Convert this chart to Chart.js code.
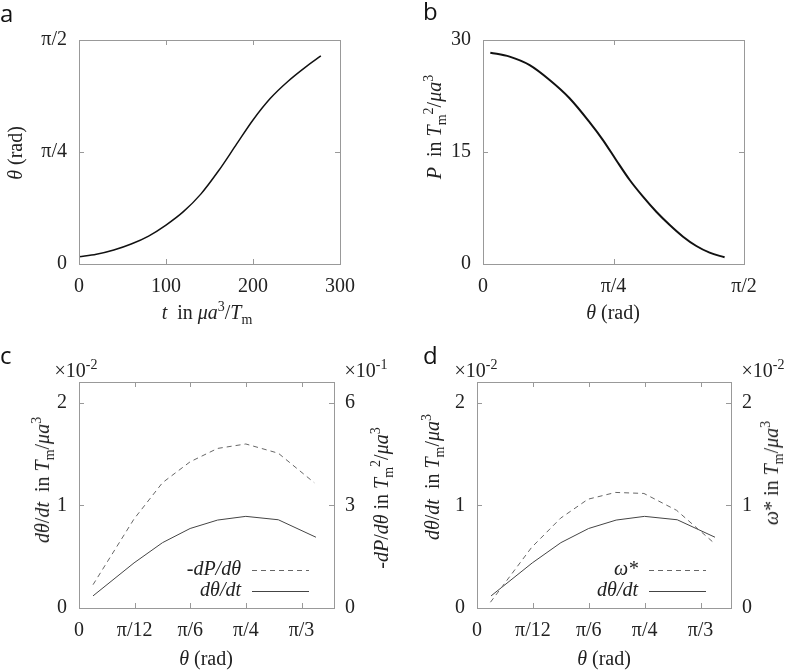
<!DOCTYPE html>
<html>
<head>
<meta charset="utf-8">
<script src="https://cdn.jsdelivr.net/npm/chart.js@4.4.1/dist/chart.umd.min.js"></script>
<style>
  body { margin: 0; background: #fff; }
  #page { position: relative; width: 787px; height: 672px; overflow: hidden;
          font-family: "Liberation Serif", "DejaVu Serif", "Noto Serif", "Times New Roman", serif; color: #222; }
  canvas { position: absolute; }
  .lbl { position: absolute; font-size: 20px; line-height: 20px; white-space: nowrap;
         transform: translate(-50%, -50%); }
  .rot { transform: translate(-50%, -50%) rotate(-90deg); }
  .lbl sup, .lbl sub { font-size: 14px; line-height: 0; }
  .tag { position: absolute; font-family: "Open Sans", sans-serif; font-size: 24px;
         line-height: 24px; color: #111; }
</style>
</head>
<body>
<div id="page">
  <canvas id="pa" width="393" height="336" style="left:0;top:0"></canvas>
  <canvas id="pb" width="394" height="336" style="left:393px;top:0"></canvas>
  <canvas id="pc" width="393" height="336" style="left:0;top:336px"></canvas>
  <canvas id="pd" width="394" height="336" style="left:393px;top:336px"></canvas>

  <div class="tag" style="left:0;top:1px">a</div>
  <div class="tag" style="left:423px;top:-1px">b</div>
  <div class="tag" style="left:0;top:343px">c</div>
  <div class="tag" style="left:423px;top:343px">d</div>

  <div class="lbl rot" style="left:15px;top:153px"><i>θ</i> (rad)</div>
  <div class="lbl" style="left:207px;top:312px"><i>t</i>&nbsp; in <i>μa</i><sup>3</sup>/<i>T</i><sub>m</sub></div>

  <div class="lbl rot" style="left:434px;top:127px"><i>P</i>&nbsp; in <i>T</i><sub>m</sub><sup>2</sup>/<i>μa</i><sup>3</sup></div>
  <div class="lbl" style="left:613px;top:312px"><i>θ</i> (rad)</div>

  <div class="lbl" style="left:76px;top:370px">×10<sup>-2</sup></div>
  <div class="lbl" style="left:366px;top:370px">×10<sup>-1</sup></div>
  <div class="lbl rot" style="left:42px;top:480px"><i>dθ</i>/<i>dt</i>&nbsp; in <i>T</i><sub>m</sub>/<i>μa</i><sup>3</sup></div>
  <div class="lbl rot" style="left:381px;top:498px">-<i>dP</i>/<i>dθ</i> in <i>T</i><sub>m</sub><sup>2</sup>/<i>μa</i><sup>3</sup></div>
  <div class="lbl" style="left:206px;top:658px"><i>θ</i> (rad)</div>

  <div class="lbl" style="left:476px;top:370px">×10<sup>-2</sup></div>
  <div class="lbl" style="left:763px;top:370px">×10<sup>-2</sup></div>
  <div class="lbl rot" style="left:432px;top:477px"><i>dθ</i>/<i>dt</i>&nbsp; in <i>T</i><sub>m</sub>/<i>μa</i><sup>3</sup></div>
  <div class="lbl rot" style="left:771px;top:473px"><i>ω</i>* in <i>T</i><sub>m</sub>/<i>μa</i><sup>3</sup></div>
  <div class="lbl" style="left:604px;top:658px"><i>θ</i> (rad)</div>
</div>
<script>
const SERIF = '"Liberation Serif", "DejaVu Serif", "Noto Serif", "Times New Roman", serif';

// panel a: angle against time
const timeA  = [0, 20, 40, 60, 80, 100, 120, 140, 160, 180, 200, 220, 240, 260, 278];
const thetaA = [0.051, 0.068, 0.098, 0.140, 0.196, 0.273, 0.367, 0.490, 0.650, 0.830,
                1.010, 1.162, 1.280, 1.379, 1.459];

// panel b: P against angle
const thetaB = [0.044, 0.160, 0.281, 0.401, 0.521, 0.641, 0.722, 0.802, 0.883, 0.963,
                1.043, 1.124, 1.204, 1.284, 1.364, 1.454];
const powerB = [28.3, 27.77, 26.63, 24.64, 22.2, 19.0, 16.6, 13.9, 11.25, 9.02,
                7.0, 5.22, 3.66, 2.41, 1.52, 0.9];

// panels c and d
const thetaRate = [0.066, 0.259, 0.393, 0.523, 0.652, 0.785, 0.938, 1.115];
const dThetaDt  = [0.118, 0.439, 0.636, 0.774, 0.856, 0.892, 0.859, 0.689];  // x10^-2
const thetaDP   = [0.066, 0.259, 0.393, 0.523, 0.652, 0.785, 0.938, 1.107];
const minusDP   = [0.68, 2.60, 3.66, 4.27, 4.66, 4.79, 4.52, 3.66];           // x10^-1
const thetaOmega = [0.063, 0.256, 0.392, 0.520, 0.649, 0.782, 0.935, 1.107];
const omegaStar  = [0.056, 0.590, 0.875, 1.059, 1.125, 1.115, 0.951, 0.639];  // x10^-2

// ticks
const PI = Math.PI;
const timeTicks = [0, 100, 200, 300];
const timeLabels = ['0', '100', '200', '300'];
const halfTicks = [0, PI / 4, PI / 2];
const halfLabels = ['0', 'π/4', 'π/2'];
const powerTicks = [0, 15, 30];
const powerLabels = ['0', '15', '30'];
const thirdTicks = [0, PI / 12, PI / 6, PI / 4, PI / 3];
const thirdLabels = ['0', 'π/12', 'π/6', 'π/4', 'π/3'];
const rateTicks = [0, 1, 2];
const rateLabels = ['0', '1', '2'];
const dpTicks = [0, 3, 6];
const dpLabels = ['0', '3', '6'];

const pts = (xs, ys) => xs.map((x, i) => ({ x: x, y: ys[i] }));

// box with inward ticks, gnuplot style
const framePlugin = {
  id: 'frame',
  afterDatasetsDraw(chart) {
    const ctx = chart.ctx, a = chart.chartArea;
    const hasRight = Object.values(chart.scales).some(s => s.position === 'right');
    const tl = 5;
    ctx.save();
    ctx.strokeStyle = '#999';
    ctx.lineWidth = 1;
    ctx.strokeRect(Math.round(a.left) + 0.5, Math.round(a.top) + 0.5,
                   Math.round(a.width), Math.round(a.height));
    ctx.beginPath();
    Object.values(chart.scales).forEach(s => {
      s.ticks.forEach(t => {
        const p = Math.round(s.getPixelForValue(t.value)) + 0.5;
        if (s.isHorizontal()) {
          ctx.moveTo(p, a.bottom); ctx.lineTo(p, a.bottom - tl);
          ctx.moveTo(p, a.top); ctx.lineTo(p, a.top + tl);
        } else if (s.position === 'left') {
          ctx.moveTo(a.left, p); ctx.lineTo(a.left + tl, p);
          if (!hasRight) { ctx.moveTo(a.right, p); ctx.lineTo(a.right - tl, p); }
        } else {
          ctx.moveTo(a.right, p); ctx.lineTo(a.right - tl, p);
        }
      });
    });
    ctx.stroke();
    ctx.restore();
  }
};

// key inside the plot, text left of the sample line
const keyPlugin = {
  id: 'key',
  afterDatasetsDraw(chart, args, opts) {
    if (!opts.show) return;
    const ctx = chart.ctx, a = chart.chartArea;
    ctx.save();
    chart.data.datasets.forEach((ds, i) => {
      const y = a.bottom - 38 + i * 21;
      ctx.font = 'italic 20px ' + SERIF;
      ctx.fillStyle = '#222';
      ctx.textAlign = 'right';
      ctx.textBaseline = 'middle';
      ctx.fillText(ds.label, a.right - 93, y);
      ctx.strokeStyle = ds.borderColor;
      ctx.lineWidth = ds.borderWidth;
      ctx.setLineDash(ds.borderDash || []);
      ctx.beginPath();
      ctx.moveTo(a.right - 82, y + 0.5);
      ctx.lineTo(a.right - 25, y + 0.5);
      ctx.stroke();
    });
    ctx.restore();
  }
};

function axis(pos, min, max, ticks, labels, size, pad) {
  return {
    type: 'linear', position: pos, min: min, max: max,
    grid: { display: false, drawTicks: false },
    border: { display: false },
    ticks: {
      font: { family: SERIF, size: 20 }, color: '#222',
      padding: pad, maxRotation: 0, autoSkip: false,
      callback: (v, i) => labels[i]
    },
    afterBuildTicks: s => { s.ticks = ticks.map(v => ({ value: v })); },
    afterFit: s => { if (s.isHorizontal()) s.height = size; else s.width = size; }
  };
}

// box = canvas position in page, plot = wanted chart area in page
function panel(id, box, plot, datasets, xAx, yAx, y2Ax, key) {
  const scales = {
    x: axis('bottom', xAx.min, xAx.max, xAx.ticks, xAx.labels, box.y + box.h - plot.b, 11),
    y: axis('left', yAx.min, yAx.max, yAx.ticks, yAx.labels, plot.l - box.x, 12)
  };
  if (y2Ax) scales.y2 = axis('right', y2Ax.min, y2Ax.max, y2Ax.ticks, y2Ax.labels, box.x + box.w - plot.r, 11);
  new Chart(document.getElementById(id), {
    type: 'scatter',
    data: { datasets: datasets },
    options: {
      responsive: false, animation: false, devicePixelRatio: 1,
      layout: { padding: { left: 0, top: plot.t - box.y, bottom: 0,
                           right: y2Ax ? 0 : box.x + box.w - plot.r } },
      scales: scales,
      plugins: { legend: { display: false }, tooltip: { enabled: false }, key: { show: key } }
    },
    plugins: [framePlugin, keyPlugin]
  });
}

const solid = (label, xs, ys, w, col) => ({
  label: label, data: pts(xs, ys), showLine: true, pointRadius: 0,
  borderColor: col, borderWidth: w, tension: 0, yAxisID: 'y'
});

panel('pa', { x: 0, y: 0, w: 393, h: 336 }, { l: 79, r: 340, t: 40, b: 264 },
  [Object.assign(solid('θ', timeA, thetaA, 1.5, '#111'), { cubicInterpolationMode: 'monotone' })],
  { min: 0, max: 300, ticks: timeTicks, labels: timeLabels },
  { min: 0, max: PI / 2, ticks: halfTicks, labels: halfLabels }, null, false);

panel('pb', { x: 393, y: 0, w: 394, h: 336 }, { l: 483, r: 744, t: 40, b: 264 },
  [Object.assign(solid('P', thetaB, powerB, 2, '#111'), { cubicInterpolationMode: 'monotone' })],
  { min: 0, max: PI / 2, ticks: halfTicks, labels: halfLabels },
  { min: 0, max: 30, ticks: powerTicks, labels: powerLabels }, null, false);

panel('pc', { x: 0, y: 336, w: 393, h: 336 }, { l: 79, r: 334, t: 382, b: 608 },
  [Object.assign(solid('-dP/dθ', thetaDP, minusDP, 1, '#666'), { borderDash: [5, 4], yAxisID: 'y2' }),
   solid('dθ/dt', thetaRate, dThetaDt, 1, '#444')],
  { min: 0, max: 1.2, ticks: thirdTicks, labels: thirdLabels },
  { min: 0, max: 2.2, ticks: rateTicks, labels: rateLabels },
  { min: 0, max: 6.6, ticks: dpTicks, labels: dpLabels }, true);

panel('pd', { x: 393, y: 336, w: 394, h: 336 }, { l: 477, r: 731, t: 382, b: 608 },
  [Object.assign(solid('ω*', thetaOmega, omegaStar, 1, '#666'), { borderDash: [5, 4], yAxisID: 'y2' }),
   solid('dθ/dt', thetaRate, dThetaDt, 1, '#444')],
  { min: 0, max: 1.19, ticks: thirdTicks, labels: thirdLabels },
  { min: 0, max: 2.2, ticks: rateTicks, labels: rateLabels },
  { min: 0, max: 2.2, ticks: rateTicks, labels: rateLabels }, true);
</script>
</body>
</html>
